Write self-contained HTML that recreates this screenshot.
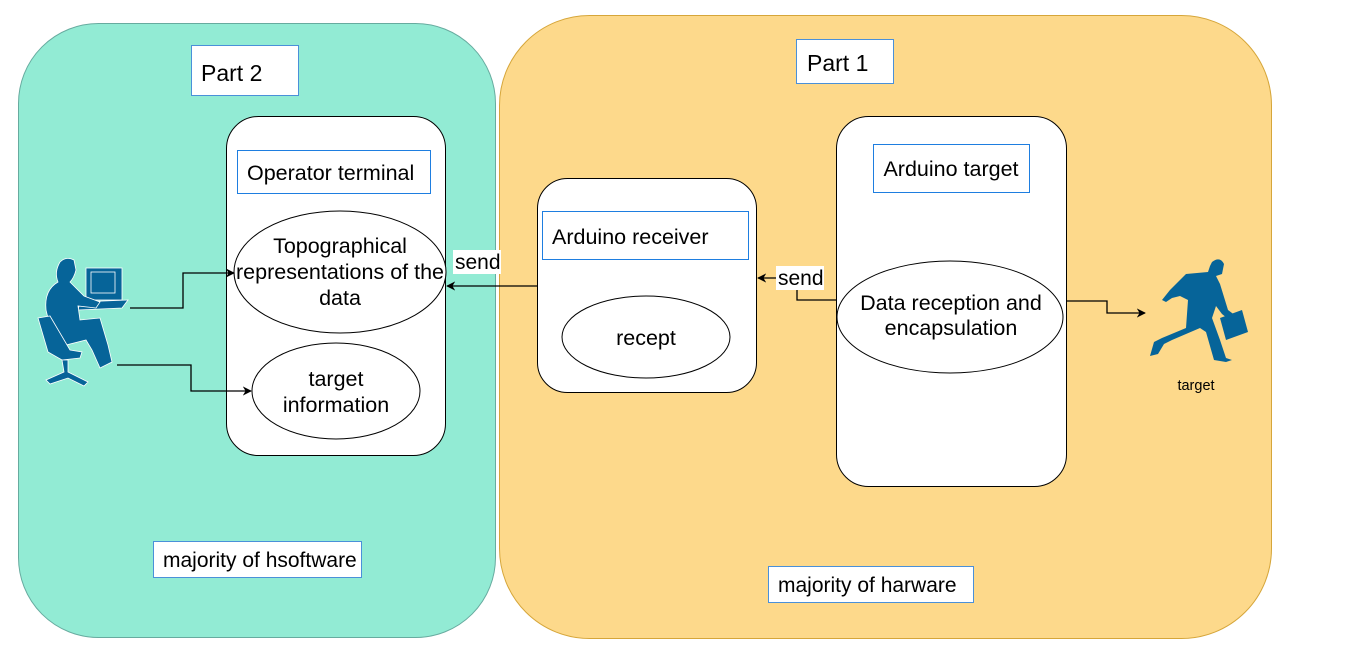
<!DOCTYPE html>
<html><head><meta charset="utf-8"><style>
html,body{margin:0;padding:0;background:#fff;width:1345px;height:660px;overflow:hidden}
text{font-family:"Liberation Sans",Arial,sans-serif;fill:#000}
</style></head><body>
<svg width="1345" height="660" viewBox="0 0 1345 660" xmlns="http://www.w3.org/2000/svg">
<defs>
<marker id="a" viewBox="0 0 10 10" refX="9" refY="5" markerWidth="7" markerHeight="7" orient="auto"><path d="M0,0 L10,5 L0,10 L3,5 z" fill="#000"/></marker>
</defs>
<rect x="18.5" y="23.5" width="477" height="614" rx="80" fill="#92ebd4" stroke="#67ab9f"/>
<rect x="499.5" y="15.5" width="772" height="623" rx="90" fill="#fdd98b" stroke="#d6a63a"/>
<rect x="191.5" y="45.5" width="107" height="50" fill="#fff" stroke="#4a90d9"/>
<text x="201" y="81" font-size="23">Part 2</text>
<rect x="796.5" y="39.5" width="97" height="44" fill="#fff" stroke="#4a90d9"/>
<text x="807" y="71" font-size="23">Part 1</text>
<rect x="226.5" y="116.5" width="219" height="339" rx="32" fill="#fff" stroke="#000"/>
<rect x="237.5" y="150.5" width="193" height="43" fill="#fff" stroke="#1e7ee0"/>
<text x="247" y="180" font-size="21.5">Operator terminal</text>
<ellipse cx="340" cy="272" rx="106" ry="61" fill="#fff" stroke="#000"/>
<text x="340" y="253" font-size="21.5" text-anchor="middle">Topographical</text>
<text x="340" y="279" font-size="21.5" text-anchor="middle">representations of the</text>
<text x="340" y="305" font-size="21.5" text-anchor="middle">data</text>
<ellipse cx="336" cy="391" rx="84" ry="48" fill="#fff" stroke="#000"/>
<text x="336" y="386" font-size="21.5" text-anchor="middle">target</text>
<text x="336" y="412" font-size="21.5" text-anchor="middle">information</text>
<rect x="537.5" y="178.5" width="219" height="214" rx="30" fill="#fff" stroke="#000"/>
<rect x="542.5" y="211.5" width="206" height="48" fill="#fff" stroke="#1e7ee0"/>
<text x="552" y="244" font-size="21.5">Arduino receiver</text>
<ellipse cx="646" cy="337" rx="84" ry="41" fill="#fff" stroke="#000"/>
<text x="646" y="345" font-size="21.5" text-anchor="middle">recept</text>
<rect x="836.5" y="116.5" width="230" height="370" rx="32" fill="#fff" stroke="#000"/>
<rect x="873.5" y="144.5" width="156" height="48" fill="#fff" stroke="#1e7ee0"/>
<text x="951" y="176" font-size="21.5" text-anchor="middle">Arduino target</text>
<ellipse cx="950" cy="317" rx="113" ry="56" fill="#fff" stroke="#000"/>
<text x="951" y="310" font-size="21.5" text-anchor="middle">Data reception and</text>
<text x="951" y="335" font-size="21.5" text-anchor="middle">encapsulation</text>
<rect x="153.5" y="541.5" width="208" height="36" fill="#fff" stroke="#4a90d9"/>
<text x="163" y="567" font-size="21">majority of hsoftware</text>
<rect x="768.5" y="566.5" width="205" height="36" fill="#fff" stroke="#4a90d9"/>
<text x="778" y="592" font-size="21">majority of harware</text>
<g fill="none" stroke="#000" stroke-width="1.3">
<path d="M537,286 H447" marker-end="url(#a)"/>
<path d="M836,300 H797 V278 H758" marker-end="url(#a)"/>
<path d="M1067,301 H1107 V313 H1145" marker-end="url(#a)"/>
<path d="M130,308 H183 V273 H234" marker-end="url(#a)"/>
<path d="M117,365 H191 V391 H251" marker-end="url(#a)"/>
</g>
<rect x="453" y="250" width="48" height="24" fill="#fff"/>
<text x="455" y="269" font-size="21">send</text>
<rect x="776" y="266" width="48" height="24" fill="#fff"/>
<text x="778" y="285" font-size="21">send</text>
<g fill="#066499" stroke="#fff" stroke-width="0.8">
<rect x="86" y="268" width="36" height="32"/>
<rect x="91" y="272" width="24" height="21" fill="#066499" stroke="#fff"/>
<path d="M80,302 L128,300 L122,308 L78,310 z"/>
<path d="M60,262 Q66,256 74,260 L76,270 Q74,278 70,282 L84,296 L100,302 L96,308 L78,306 L80,320 L100,318 L108,345 L112,362 L100,368 L92,350 L86,340 L66,345 Q50,330 46,310 Q44,290 58,282 Q54,272 60,262 z"/>
<path d="M38,318 L50,316 L70,350 L82,352 L80,358 L62,360 L48,352 z"/>
<path d="M62,360 L68,360 L68,372 L88,382 L84,386 L68,378 L50,384 L46,380 L64,372 z"/>
</g>
<g fill="#066499">
<path d="M1212,262 Q1220,256 1224,264 L1222,274 L1216,276 L1220,284 L1228,310 L1236,316 L1232,322 L1222,314 L1216,306 L1212,318 L1220,340 L1226,358 L1232,360 L1226,362 L1214,360 L1206,332 L1200,328 L1172,340 L1164,344 L1158,354 L1150,356 L1154,342 L1162,338 L1186,328 L1188,300 L1180,296 L1172,298 L1166,302 L1162,300 L1170,290 L1186,274 L1208,272 L1210,266 z"/>
<path d="M1220,318 L1242,310 L1248,332 L1226,340 z"/>
</g>
<text x="1196" y="390" font-size="14.5" text-anchor="middle">target</text>
</svg>
</body></html>
